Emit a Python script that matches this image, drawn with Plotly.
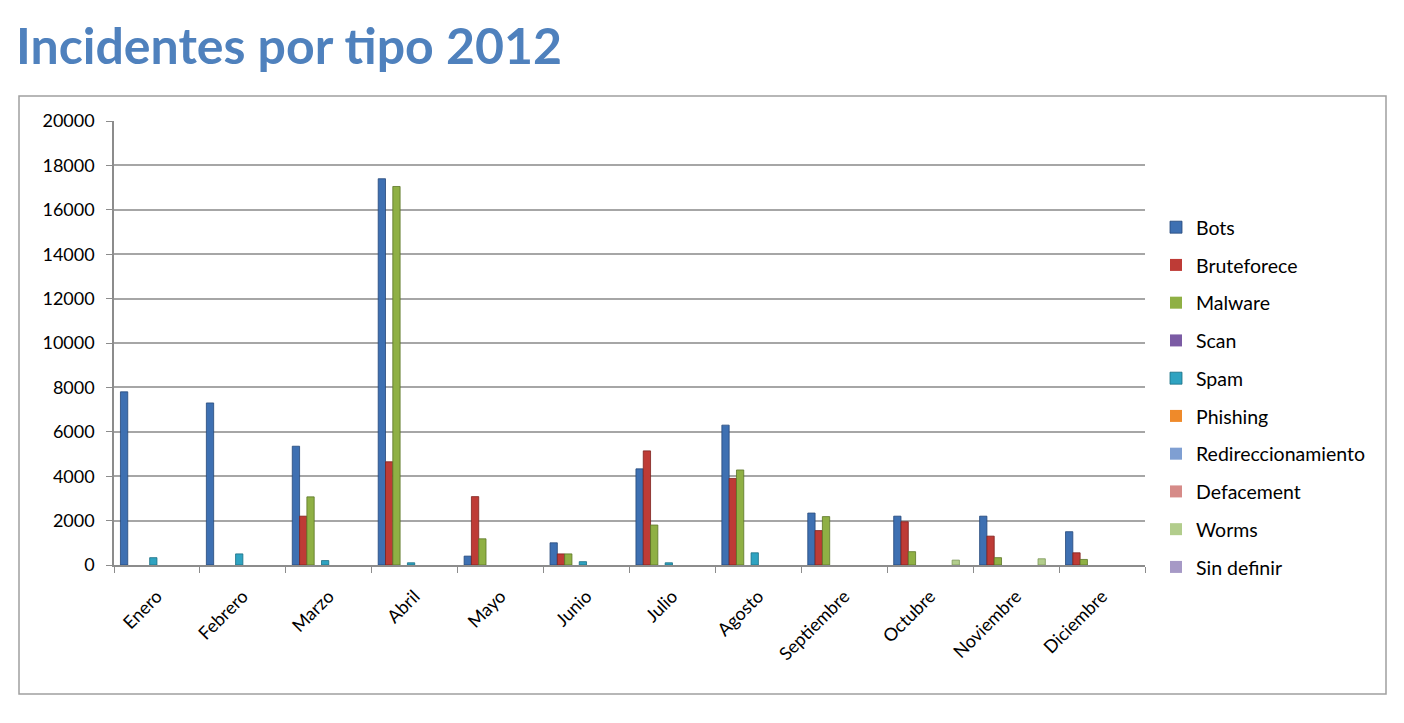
import plotly.graph_objects as go

months = ["Enero", "Febrero", "Marzo", "Abril", "Mayo", "Junio", "Julio",
          "Agosto", "Septiembre", "Octubre", "Noviembre", "Diciembre"]

bots = [7800, 7300, 5350, 17400, 400, 1000, 4330, 6300, 2340, 2200, 2200, 1500]
bruteforece = [0, 0, 2200, 4650, 3080, 500, 5140, 3900, 1550, 1950, 1300, 550]
malware = [0, 0, 3070, 17050, 1180, 500, 1800, 4280, 2180, 600, 330, 250]
scan = [0, 0, 0, 0, 0, 0, 0, 0, 0, 0, 0, 0]
spam = [330, 500, 200, 100, 0, 150, 100, 550, 0, 0, 0, 0]
phishing = [0, 0, 0, 0, 0, 0, 0, 0, 0, 0, 0, 0]
redireccionamiento = [0, 0, 0, 0, 0, 0, 0, 0, 0, 0, 0, 0]
defacement = [0, 0, 0, 0, 0, 0, 0, 0, 0, 0, 0, 0]
worms = [0, 0, 0, 0, 0, 0, 0, 0, 0, 220, 280, 0]
sin_definir = [0, 0, 0, 0, 0, 0, 0, 0, 0, 0, 0, 0]

series = [
    ("Bots", bots, "#3E70B2", "#24487A"),
    ("Bruteforece", bruteforece, "#BE3B36", "#7E221E"),
    ("Malware", malware, "#8FB044", "#5C7526"),
    ("Scan", scan, "#7B5BA4", "#4E3570"),
    ("Spam", spam, "#2FA3C1", "#1A6E84"),
    ("Phishing", phishing, "#EF8A2A", "#A85A12"),
    ("Redireccionamiento", redireccionamiento, "#7F9FD2", "#4F6E9E"),
    ("Defacement", defacement, "#D68B88", "#9C5855"),
    ("Worms", worms, "#B2CD8C", "#7C9758"),
    ("Sin definir", sin_definir, "#A699C6", "#71668F"),
]

y_ticks = list(range(0, 20001, 2000))

FONT = "Lato"

# page body has an 8px offset; plot area in reference: x 114..1145, y 121..565
OFF = 8
PL, PR, PT, PB = 114 - OFF, 1145 - OFF, 121 - OFF, 565 - OFF
PW, PH = PR - PL, PB - PT


def px(xp):
    return (xp - OFF - PL) / PW


def py(yp):
    return (PB - (yp - OFF)) / PH


fig = go.Figure()
for i, (name, vals, col, edge) in enumerate(series):
    fig.add_trace(go.Bar(
        name=name, x=months, y=vals,
        marker=dict(color=col,
                    line=dict(color=edge,
                              width=[0.8 if v > 0 else 0 for v in vals])),
        legendgroup=f"g{i}",
    ))

fig.update_layout(
    width=1404, height=723,
    paper_bgcolor="white", plot_bgcolor="white",
    barmode="group", bargap=0.15, bargroupgap=0,
    margin=dict(l=PL, r=1404 - PR, t=PT, b=723 - PB),
    font=dict(family=FONT, size=18, color="black"),
    showlegend=True,
    legend=dict(
        x=px(1156), xanchor="left", y=py(208), yanchor="top",
        font=dict(family=FONT, size=19.5, color="black"),
        tracegroupgap=9.4, itemwidth=30,
        bgcolor="rgba(0,0,0,0)",
    ),
    annotations=[dict(
        text="<b>Incidentes por tipo 2012</b>",
        xref="paper", yref="paper",
        x=px(14), y=py(45),
        xanchor="left", yanchor="middle", showarrow=False,
        font=dict(family=FONT, size=50, color="#4F81BD"),
    )],
    shapes=[dict(
        type="rect", xref="paper", yref="paper",
        x0=px(19), x1=px(1386),
        y0=py(694), y1=py(96),
        line=dict(color="#A0A0A0", width=1.5), fillcolor="rgba(0,0,0,0)",
        layer="below",
    )],
)

fig.update_xaxes(
    type="category", tickangle=-45, tickson="boundaries",
    ticks="outside", ticklen=6, tickcolor="#8C8C8C",
    showline=True, linecolor="#8C8C8C", linewidth=1.5,
    showgrid=False, tickfont=dict(family=FONT, size=18),
    ticklabelstandoff=12,
)
fig.update_yaxes(
    range=[0, 20000], tickvals=y_ticks, ticktext=[str(v) for v in y_ticks],
    ticks="outside", ticklen=6, tickcolor="#8C8C8C",
    showline=True, linecolor="#8C8C8C", linewidth=1.5,
    showgrid=True, gridcolor="#A6A6A6", gridwidth=1.5,
    zeroline=False, tickfont=dict(family=FONT, size=18),
    ticklabelstandoff=8,
)

fig.write_html("out.html")
